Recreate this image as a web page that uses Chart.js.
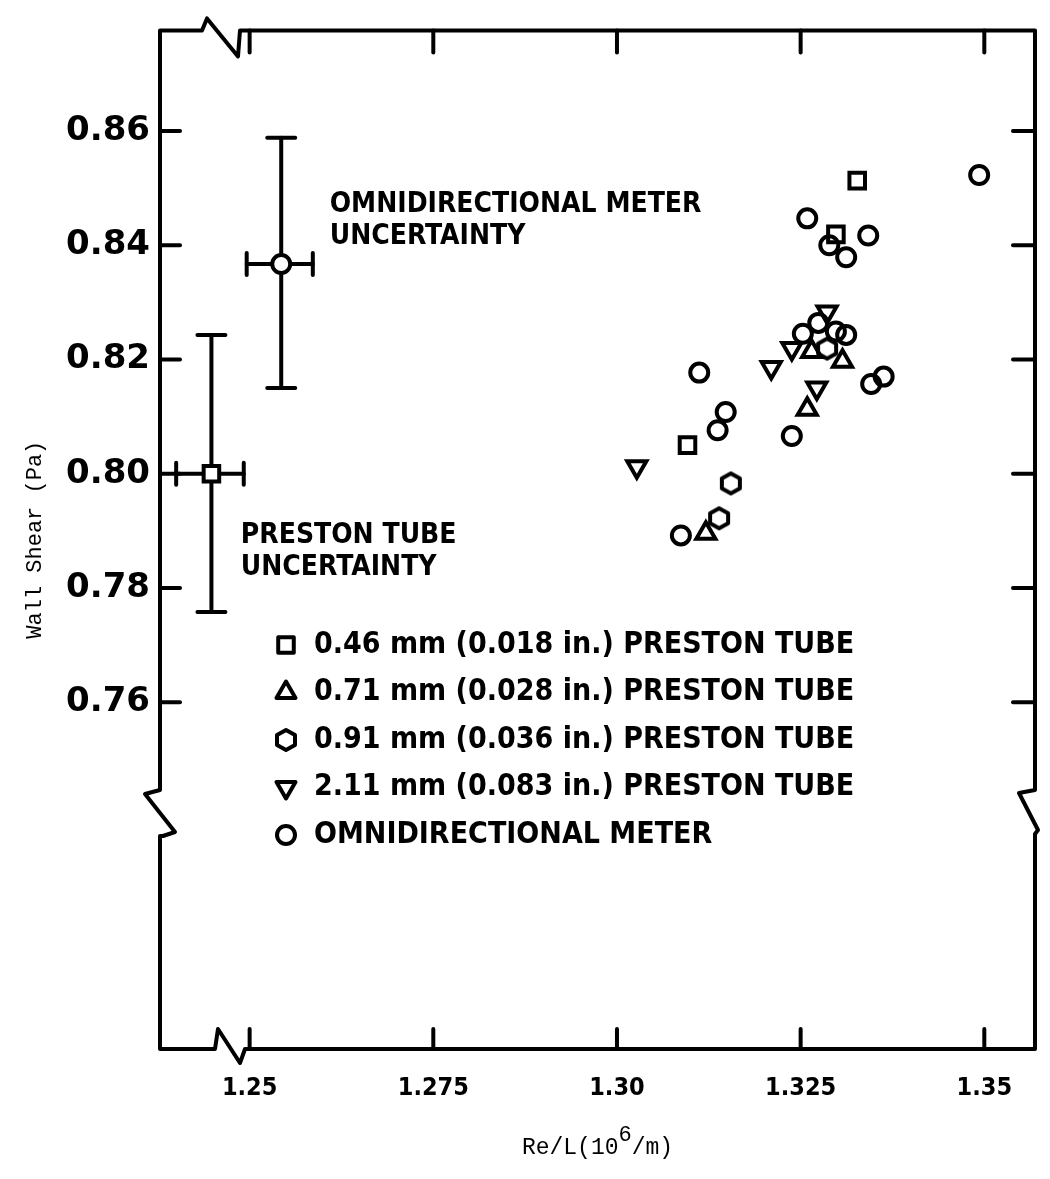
<!DOCTYPE html>
<html>
<head>
<meta charset="utf-8">
<title>Wall shear vs Re/L</title>
<script src="https://cdn.jsdelivr.net/npm/chart.js@4.4.1/dist/chart.umd.min.js"></script>
<style>
  html, body { margin: 0; padding: 0; background: #fff; }
  #wrap { width: 1050px; height: 1179px; }
</style>
</head>
<body>
<div id="wrap"><canvas id="shearChart" width="1050" height="1179"></canvas></div>
<script>
// axis ticks
var xTicks = [1.25, 1.275, 1.30, 1.325, 1.35];
var xTickLabels = ["1.25", "1.275", "1.30", "1.325", "1.35"];
var yTicks = [0.76, 0.78, 0.80, 0.82, 0.84, 0.86];
var yTickLabels = ["0.76", "0.78", "0.80", "0.82", "0.84", "0.86"];

// 0.46 mm preston tube (squares)
var tube046X = [1.3327, 1.3298, 1.3096];
var tube046Y = [0.8513, 0.8419, 0.8050];
// 0.71 mm preston tube (triangles)
var tube071X = [1.3265, 1.3307, 1.3259, 1.3121];
var tube071Y = [0.8214, 0.8197, 0.8113, 0.7896];
// 0.91 mm preston tube (hexagons)
var tube091X = [1.3155, 1.3139, 1.3286];
var tube091Y = [0.7983, 0.7922, 0.8219];
// 2.11 mm preston tube (down triangles)
var tube211X = [1.3286, 1.3238, 1.3272, 1.3210, 1.3027];
var tube211Y = [0.8283, 0.8219, 0.8150, 0.8186, 0.8012];
// omnidirectional meter (circles)
var omniX = [1.3493, 1.3342, 1.3312, 1.3259, 1.3289, 1.3346, 1.3363, 1.3112, 1.3148, 1.3137, 1.3238, 1.3087, 1.3274, 1.3253, 1.3298, 1.3312];
var omniY = [0.8523, 0.8417, 0.8379, 0.8447, 0.8400, 0.8157, 0.8170, 0.8177, 0.8108, 0.8076, 0.8066, 0.7892, 0.8264, 0.8245, 0.8249, 0.8243];

// uncertainty bars: [omni meter, preston tube]
var uncertX = [1.2543, 1.2448];
var uncertY = [0.8367, 0.8000];
var uncertXLow = [1.2496, 1.2400];
var uncertXHigh = [1.2586, 1.2492];
var uncertYLow = [0.8150, 0.7758];
var uncertYHigh = [0.8588, 0.8243];
var uncertText = [["OMNIDIRECTIONAL METER", "UNCERTAINTY"], ["PRESTON TUBE", "UNCERTAINTY"]];
var uncertTextX = [1.2609, 1.2488];
var uncertTextY = [0.8470, 0.7892];

var legendLabels = [
    "0.46 mm (0.018 in.) PRESTON TUBE",
    "0.71 mm (0.028 in.) PRESTON TUBE",
    "0.91 mm (0.036 in.) PRESTON TUBE",
    "2.11 mm (0.083 in.) PRESTON TUBE",
    "OMNIDIRECTIONAL METER"
];

var ink = "#000";
var condensed = "'DejaVu Sans Condensed', 'DejaVu Sans', sans-serif";
var mono = "'Liberation Mono', 'DejaVu Sans Mono', monospace";

function toPoints(xs, ys) {
    return xs.map((x, i) => ({ x: x, y: ys[i] }))
}

function hexMarker() {
    var c = document.createElement("canvas")
    c.width = 26; c.height = 28
    var g = c.getContext("2d")
    var cx = 13, cy = 14, rx = 9, ry = 10
    g.beginPath()
    g.moveTo(cx, cy - ry)
    g.lineTo(cx + rx, cy - ry / 2)
    g.lineTo(cx + rx, cy + ry / 2)
    g.lineTo(cx, cy + ry)
    g.lineTo(cx - rx, cy + ry / 2)
    g.lineTo(cx - rx, cy - ry / 2)
    g.closePath()
    g.lineWidth = 4
    g.lineJoin = "round"
    g.strokeStyle = ink
    g.stroke()
    return c
}
var hexImg = hexMarker()

function markerSet(label, pts, style, radius, rotation, fill) {
    return {
        label: label,
        data: pts,
        pointStyle: style,
        pointRadius: radius,
        pointRotation: rotation || 0,
        pointBorderWidth: 4,
        pointBorderColor: ink,
        pointBackgroundColor: fill || "rgba(0,0,0,0)",
        showLine: false
    }
}

var datasets = [
    markerSet(legendLabels[0], toPoints(tube046X, tube046Y), "rect", 11),
    markerSet(legendLabels[1], toPoints(tube071X, tube071Y), "triangle", 11),
    markerSet(legendLabels[2], toPoints(tube091X, tube091Y), hexImg, 10),
    markerSet(legendLabels[3], toPoints(tube211X, tube211Y), "triangle", 11, 180),
    markerSet(legendLabels[4], toPoints(omniX, omniY), "circle", 9),
    // centres of the uncertainty bars
    markerSet("omni uncertainty", [{ x: uncertX[0], y: uncertY[0] }], "circle", 9, 0, "#fff"),
    markerSet("preston uncertainty", [{ x: uncertX[1], y: uncertY[1] }], "rect", 11, 0, "#fff")
];

function line(ctx, x1, y1, x2, y2) {
    ctx.beginPath(); ctx.moveTo(x1, y1); ctx.lineTo(x2, y2); ctx.stroke()
}

var paperPlugin = {
    id: "paper",
    beforeDatasetsDraw(chart) {
        var ctx = chart.ctx, xs = chart.scales.x, ys = chart.scales.y
        ctx.save()
        ctx.strokeStyle = ink; ctx.lineWidth = 4; ctx.lineCap = "round"
        uncertX.forEach((cx, i) => {
            var px = xs.getPixelForValue(cx), py = ys.getPixelForValue(uncertY[i])
            var x1 = xs.getPixelForValue(uncertXLow[i]), x2 = xs.getPixelForValue(uncertXHigh[i])
            var y1 = ys.getPixelForValue(uncertYHigh[i]), y2 = ys.getPixelForValue(uncertYLow[i])
            line(ctx, px, y1, px, y2)
            line(ctx, px - 14, y1, px + 14, y1)
            line(ctx, px - 14, y2, px + 14, y2)
            line(ctx, x1, py, x2, py)
            line(ctx, x1, py - 11, x1, py + 11)
            line(ctx, x2, py - 11, x2, py + 11)
        })
        ctx.restore()
    },
    afterDatasetsDraw(chart) {
        var ctx = chart.ctx, a = chart.chartArea, xs = chart.scales.x, ys = chart.scales.y
        var L = a.left, R = a.right, T = a.top, B = a.bottom
        ctx.save()
        ctx.strokeStyle = ink; ctx.lineWidth = 4; ctx.lineCap = "round"; ctx.lineJoin = "round"

        // frame with axis breaks
        var brk = 790
        ctx.beginPath()
        ctx.moveTo(L, B)
        ctx.lineTo(L, brk + 46); ctx.lineTo(L + 3, brk + 46); ctx.lineTo(L + 15, brk + 42)
        ctx.lineTo(L - 15, brk + 4); ctx.lineTo(L, brk); ctx.lineTo(L, T)
        ctx.lineTo(L + 42, T); ctx.lineTo(L + 47, T - 12); ctx.lineTo(L + 78, T + 26); ctx.lineTo(L + 80, T)
        ctx.lineTo(R, T)
        ctx.lineTo(R, brk); ctx.lineTo(R - 16, brk + 3); ctx.lineTo(R + 3, brk + 40); ctx.lineTo(R, brk + 44)
        ctx.lineTo(R, B)
        ctx.lineTo(L + 85, B); ctx.lineTo(L + 80, B + 14); ctx.lineTo(L + 58, B - 20); ctx.lineTo(L + 55, B)
        ctx.closePath()
        ctx.stroke()

        // inward ticks
        yTicks.forEach(v => {
            var py = ys.getPixelForValue(v)
            line(ctx, L, py, L + 20, py)
            line(ctx, R, py, R - 22, py)
        })
        xTicks.forEach(v => {
            var px = xs.getPixelForValue(v)
            line(ctx, px, B, px, B - 20)
            if (px > L + 85) line(ctx, px, T, px, T + 22)
        })

        // uncertainty notes
        ctx.fillStyle = ink
        ctx.font = "bold 28px " + condensed
        ctx.textBaseline = "middle"
        ctx.textAlign = "left"
        uncertText.forEach((lines, i) => {
            var tx = xs.getPixelForValue(uncertTextX[i]), ty = ys.getPixelForValue(uncertTextY[i])
            lines.forEach((t, k) => ctx.fillText(t, tx, ty + k * 32))
        })

        // legend inside the frame
        var rowY = 645, rowGap = 47.5
        ctx.font = "bold 30px " + condensed
        for (var i = 0; i < 5; i++) {
            var ds = chart.data.datasets[i]
            ctx.fillStyle = "rgba(0,0,0,0)"
            ctx.strokeStyle = ink
            ctx.lineWidth = 4
            Chart.helpers.drawPoint(ctx, {
                pointStyle: ds.pointStyle, rotation: ds.pointRotation,
                radius: ds.pointRadius, borderWidth: 4
            }, 286, rowY + i * rowGap)
            ctx.fillStyle = ink
            ctx.fillText(ds.label, 314, rowY + i * rowGap)
        }

        // x axis title with raised exponent
        var parts = ["Re/L(10", "6", "/m)"]
        ctx.font = "23px " + mono
        var w0 = ctx.measureText(parts[0]).width, w2 = ctx.measureText(parts[2]).width
        ctx.font = "22px " + mono
        var w1 = ctx.measureText(parts[1]).width
        var tx0 = (L + R) / 2 - (w0 + w1 + w2) / 2, ty0 = 1148
        ctx.font = "23px " + mono
        ctx.fillText(parts[0], tx0, ty0)
        ctx.fillText(parts[2], tx0 + w0 + w1, ty0)
        ctx.font = "22px " + mono
        ctx.fillText(parts[1], tx0 + w0, ty0 - 13)
        ctx.restore()
    }
}

window.shearChart = new Chart(document.getElementById("shearChart").getContext("2d"), {
    type: "scatter",
    data: { datasets: datasets },
    options: {
        responsive: false,
        animation: false,
        devicePixelRatio: 1,
        layout: { padding: { left: 0, right: 5, top: 22, bottom: 0 } },
        plugins: { legend: { display: false }, tooltip: { enabled: false } },
        scales: {
            x: {
                type: "linear",
                min: 1.2378,
                max: 1.3569,
                afterBuildTicks: s => { s.ticks = xTicks.map(v => ({ value: v })) },
                afterFit: s => { s.height = 130 },
                grid: { display: false, drawTicks: false },
                border: { display: false },
                ticks: {
                    autoSkip: false,
                    maxRotation: 0,
                    padding: 24,
                    color: ink,
                    font: { family: condensed, size: 25, weight: "bold" },
                    callback: v => xTickLabels[xTicks.indexOf(v)]
                }
            },
            y: {
                type: "linear",
                min: 0.6993,
                max: 0.8776,
                afterBuildTicks: s => { s.ticks = yTicks.map(v => ({ value: v })) },
                afterFit: s => { s.width = 160 },
                grid: { display: false, drawTicks: false },
                border: { display: false },
                ticks: {
                    autoSkip: false,
                    padding: 10,
                    color: ink,
                    font: { family: "'DejaVu Sans', sans-serif", size: 34, weight: "bold" },
                    callback: v => yTickLabels[yTicks.indexOf(v)]
                },
                title: {
                    display: true,
                    text: "Wall Shear (Pa)",
                    color: ink,
                    font: { family: mono, size: 22 },
                    padding: { top: 22, bottom: 0 }
                }
            }
        }
    },
    plugins: [paperPlugin]
})
</script>
</body>
</html>
